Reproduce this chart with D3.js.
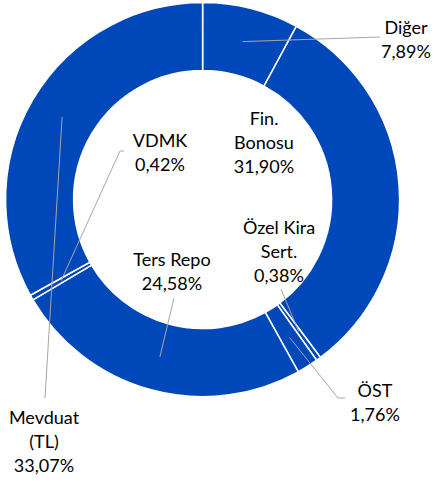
<!DOCTYPE html>
<html>
<head>
<meta charset="utf-8">
<script src="https://cdn.jsdelivr.net/npm/d3@7"></script>
<style>
  body { margin: 0; background: #fff; }
  text { font-family: Lato, "Noto Sans", sans-serif; fill: #000; }
</style>
</head>
<body>
<svg id="chart" width="434" height="482"></svg>
<script>
const categories = ["Diğer", "Fin. Bonosu", "Özel Kira Sert.", "ÖST", "Ters Repo", "VDMK", "Mevduat (TL)"];
const values = [7.89, 31.90, 0.38, 1.76, 24.58, 0.42, 33.07];
const nameLines = [["Diğer"], ["Fin.", "Bonosu"], ["Özel Kira", "Sert."], ["ÖST"], ["Ters Repo"], ["VDMK"], ["Mevduat", "(TL)"]];

// label placement: text centre + first line middle, leader path end (nearest the label)
const labelLayout = [
  { x: 406, y: 27, leader: [[380, 37]] },
  { x: 264, y: 118, leader: null },
  { x: 279, y: 227, leader: [[281, 289]] },
  { x: 375, y: 390, leader: [[338, 398], [345, 398]] },
  { x: 172, y: 259, leader: [[174, 298]] },
  { x: 160, y: 140, leader: [[120, 151], [124, 151]] },
  { x: 44, y: 417, leader: [[45, 398]] },
];

const cx = 202.6, cy = 199.6, outerR = 197, innerR = 129, lineH = 24;
const svg = d3.select("#chart");

const pie = d3.pie().sort(null).value(function (d) { return d; });
const arcs = pie(values);
const arc = d3.arc().innerRadius(innerR).outerRadius(outerR);
const midArc = d3.arc().innerRadius((innerR + outerR) / 2).outerRadius((innerR + outerR) / 2);

const fmt = function (v) { return d3.format(".2f")(v).replace(".", ",") + "%"; };

const g = svg.append("g").attr("transform", "translate(" + cx + "," + cy + ")");

g.selectAll("path.slice")
  .data(arcs)
  .enter()
  .append("path")
  .attr("class", "slice")
  .attr("d", arc)
  .attr("fill", "#0048BA")
  .attr("stroke", "#fff")
  .attr("stroke-width", 1.5);

// leader lines
const line = d3.line();
svg.append("g").selectAll("path")
  .data(arcs.filter(function (d, i) { return labelLayout[i].leader; }))
  .enter()
  .append("path")
  .attr("d", function (d) {
    const c = midArc.centroid(d);
    const pts = [[c[0] + cx, c[1] + cy]].concat(labelLayout[d.index].leader);
    return line(pts);
  })
  .attr("fill", "none")
  .attr("stroke", "#A6A6A6")
  .attr("stroke-width", 1);

// labels
const labels = svg.append("g").selectAll("text")
  .data(arcs)
  .enter()
  .append("text")
  .attr("text-anchor", "middle")
  .attr("font-size", 18)
  .attr("transform", function (d) {
    const p = labelLayout[d.index];
    return "translate(" + p.x + "," + p.y + ")";
  });

labels.selectAll("tspan")
  .data(function (d) { return nameLines[d.index].concat([fmt(d.data)]); })
  .enter()
  .append("tspan")
  .attr("x", 0)
  .attr("y", function (d, i) { return i * lineH; })
  .attr("dominant-baseline", "central")
  .text(function (d) { return d; });
</script>
</body>
</html>
